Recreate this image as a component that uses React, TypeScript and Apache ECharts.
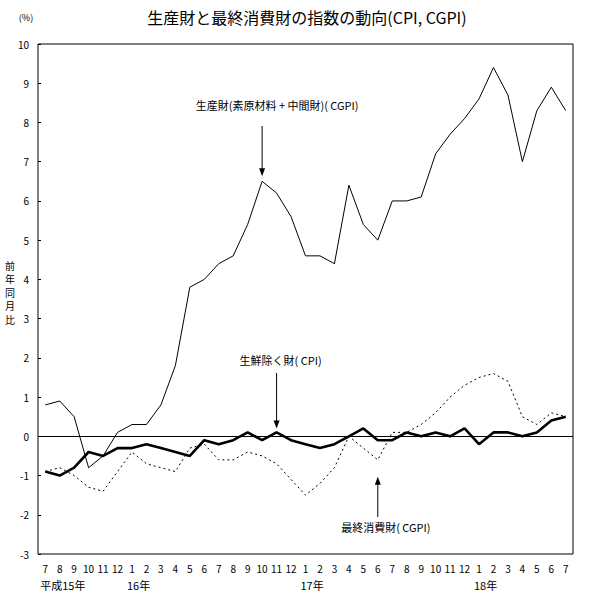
import React, { useEffect, useRef } from 'react';
import * as echarts from 'echarts';

// 平成15年7月 〜 平成18年7月 (year.month)
const categories = [
  '15.7', '15.8', '15.9', '15.10', '15.11', '15.12',
  '16.1', '16.2', '16.3', '16.4', '16.5', '16.6', '16.7', '16.8', '16.9', '16.10', '16.11', '16.12',
  '17.1', '17.2', '17.3', '17.4', '17.5', '17.6', '17.7', '17.8', '17.9', '17.10', '17.11', '17.12',
  '18.1', '18.2', '18.3', '18.4', '18.5', '18.6', '18.7',
];

// 生産財(素原材料+中間財)(CGPI)
const producerCGPI = [
  0.8, 0.9, 0.5, -0.8, -0.5, 0.1,
  0.3, 0.3, 0.8, 1.8, 3.8, 4.0, 4.4, 4.6, 5.4, 6.5, 6.2, 5.6,
  4.6, 4.6, 4.4, 6.4, 5.4, 5.0, 6.0, 6.0, 6.1, 7.2, 7.7, 8.1,
  8.6, 9.4, 8.7, 7.0, 8.3, 8.9, 8.3,
];

// 生鮮除く財(CPI)
const goodsExFreshCPI = [
  -0.9, -1.0, -0.8, -0.4, -0.5, -0.3,
  -0.3, -0.2, -0.3, -0.4, -0.5, -0.1, -0.2, -0.1, 0.1, -0.1, 0.1, -0.1,
  -0.2, -0.3, -0.2, 0.0, 0.2, -0.1, -0.1, 0.1, 0.0, 0.1, 0.0, 0.2,
  -0.2, 0.1, 0.1, 0.0, 0.1, 0.4, 0.5,
];

// 最終消費財(CGPI)
const finalConsumerCGPI = [
  -0.9, -0.8, -1.0, -1.3, -1.4, -0.9,
  -0.4, -0.7, -0.8, -0.9, -0.3, -0.2, -0.6, -0.6, -0.4, -0.5, -0.7, -1.1,
  -1.5, -1.2, -0.8, 0.0, -0.3, -0.6, 0.1, 0.1, 0.3, 0.6, 1.0, 1.3,
  1.5, 1.6, 1.4, 0.5, 0.3, 0.6, 0.5,
];

const yearLabels = [
  { cat: '15.7', text: '平成15年' },
  { cat: '16.1', text: '16年' },
  { cat: '17.1', text: '17年' },
  { cat: '18.1', text: '18年' },
];

const yAxisTitleChars = ['前', '年', '同', '月', '比'];

const FONT = '"Noto Sans CJK JP", "DejaVu Sans", sans-serif';

export default function App() {
  const ref = useRef<HTMLDivElement>(null);

  useEffect(() => {
    document.body.style.margin = '0';
    const chart = echarts.init(ref.current!, null, { renderer: 'svg' });
    chart.setOption({
      animation: false,
      backgroundColor: '#ffffff',
      grid: {
        left: 38,
        right: 24,
        top: 44,
        bottom: 44,
        show: true,
        borderColor: '#000',
        borderWidth: 1,
        backgroundColor: 'transparent',
      },
      xAxis: {
        type: 'category',
        data: categories,
        boundaryGap: true,
        axisLine: { show: false },
        axisTick: { show: false },
        splitLine: { show: false },
        axisLabel: {
          interval: 0,
          formatter: (v: string) => v.split('.')[1],
          fontSize: 10,
          color: '#000',
          margin: 9,
          fontFamily: FONT,
        },
      },
      yAxis: {
        type: 'value',
        min: -3,
        max: 10,
        interval: 1,
        axisLine: { show: false },
        axisTick: { show: true, inside: true, length: 3, lineStyle: { color: '#000' } },
        splitLine: { show: false },
        axisLabel: { fontSize: 10, color: '#000', margin: 9, fontFamily: FONT },
      },
      series: [
        {
          name: '生産財(素原材料+中間財)(CGPI)',
          type: 'line',
          data: producerCGPI,
          symbol: 'none',
          lineStyle: { color: '#000', width: 1 },
          markLine: {
            silent: true,
            symbol: ['none', 'none'],
            label: { show: false },
            lineStyle: { color: '#000', width: 1, type: 'solid' },
            data: [{ yAxis: 0 }],
          },
        },
        {
          name: '最終消費財(CGPI)',
          type: 'line',
          data: finalConsumerCGPI,
          symbol: 'none',
          lineStyle: { color: '#000', width: 1, type: [2, 3] },
        },
        {
          name: '生鮮除く財(CPI)',
          type: 'line',
          data: goodsExFreshCPI,
          symbol: 'none',
          lineStyle: { color: '#000', width: 2.6 },
        },
      ],
    });

    const px = (cat: string, v: number) =>
      chart.convertToPixel({ gridIndex: 0 }, [cat, v]) as number[];

    const textEl = (
      x: number, y: number, text: string, fontSize: number,
      align: string = 'center', extra: any = {}
    ) => ({
      type: 'text',
      x,
      y,
      silent: true,
      style: {
        text,
        fontSize,
        fontFamily: FONT,
        fill: '#000',
        textAlign: align,
        textVerticalAlign: 'middle',
        ...extra,
      },
    });

    const arrow = (x: number, fromY: number, tipY: number) => {
      const dir = tipY > fromY ? 1 : -1;
      return [
        {
          type: 'line',
          silent: true,
          shape: { x1: x, y1: fromY, x2: x, y2: tipY - dir * 6 },
          style: { stroke: '#000', lineWidth: 1 },
        },
        {
          type: 'polygon',
          silent: true,
          shape: {
            points: [
              [x - 3, tipY - dir * 8],
              [x + 3, tipY - dir * 8],
              [x, tipY],
            ],
          },
          style: { fill: '#000' },
        },
      ];
    };

    const p1 = px(categories[15], producerCGPI[15]);
    const p2 = px(categories[16], goodsExFreshCPI[16]);
    const p3 = px(categories[23], finalConsumerCGPI[23]);

    const graphics: any[] = [
      textEl(307, 17, '生産財と最終消費財の指数の動向(CPI, CGPI)', 16),
      textEl(26, 17, '(%)', 9),
      textEl(p1[0] + 15, 105, '生産財(素原材料 + 中間財)( CGPI)', 11),
      ...arrow(p1[0], 126, p1[1] - 5),
      textEl(p2[0] + 4, 360, '生鮮除く財( CPI)', 11),
      ...arrow(p2[0], 373, p2[1] - 4),
      textEl(p3[0] + 8, 527, '最終消費財( CGPI)', 11),
      ...arrow(p3[0], 517, p3[1] + 17),
    ];

    yAxisTitleChars.forEach((ch, i) => {
      graphics.push(textEl(10, 265 + i * 13.6, ch, 10));
    });

    yearLabels.forEach((yl) => {
      const x = chart.convertToPixel({ xAxisIndex: 0 }, yl.cat) as number;
      graphics.push(textEl(x - 5, 585, yl.text, 11, 'left'));
    });

    chart.setOption({ graphic: graphics });

    return () => chart.dispose();
  }, []);

  return <div ref={ref} style={{ width: 597, height: 598 }} />;
}
